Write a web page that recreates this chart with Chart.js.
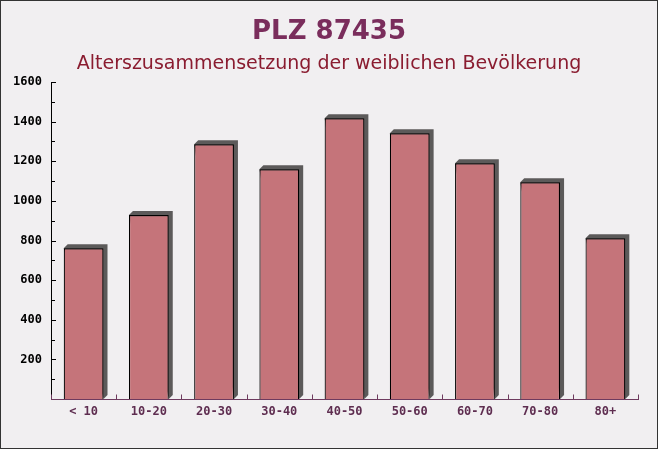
<!DOCTYPE html>
<html>
<head>
<meta charset="utf-8">
<script src="https://cdn.jsdelivr.net/npm/chart.js@4/dist/chart.umd.min.js"></script>
<style>
html,body{margin:0;padding:0;background:#f1eff1;}
#wrap{width:658px;height:449px;position:relative;}
</style>
</head>
<body>
<div id="wrap"><canvas id="c" width="658" height="449"></canvas></div>
<script>
const categories = ["< 10","10-20","20-30","30-40","40-50","50-60","60-70","70-80","80+"];
const values = [761, 929, 1286, 1159, 1417, 1341, 1190, 1094, 811];
const yTickValues = [200, 400, 600, 800, 1000, 1200, 1400, 1600];
const titleText = "PLZ 87435";
const subtitleText = "Alterszusammensetzung der weiblichen Bevölkerung";

const bgPlugin = {
  id: 'bg',
  beforeDraw(chart) {
    const ctx = chart.ctx;
    ctx.save();
    ctx.fillStyle = '#f1eff1';
    ctx.fillRect(0, 0, chart.width, chart.height);
    ctx.restore();
  },
  afterDraw(chart) {
    const ctx = chart.ctx;
    ctx.save();
    ctx.strokeStyle = '#333333';
    ctx.lineWidth = 1;
    ctx.strokeRect(0.5, 0.5, chart.width - 1, chart.height - 1);
    ctx.restore();
  }
};

const shadowPlugin = {
  id: 'shadow3d',
  beforeDatasetsDraw(chart) {
    const ctx = chart.ctx;
    const meta = chart.getDatasetMeta(0);
    ctx.save();
    ctx.fillStyle = '#5c5a5a';
    meta.data.forEach(bar => {
      const p = bar.getProps(['x','y','base','width'], true);
      const l = p.x - p.width / 2, r = p.x + p.width / 2;
      const t = p.y, b = p.base;
      const d = 4;
      ctx.beginPath();
      ctx.moveTo(l, t);
      ctx.lineTo(l + d, t - d);
      ctx.lineTo(r + d, t - d);
      ctx.lineTo(r + d, b - d);
      ctx.lineTo(r, b);
      ctx.closePath();
      ctx.fill();
    });
    ctx.restore();
  }
};

const axesPlugin = {
  id: 'axesTicks',
  afterDatasetsDraw(chart) {
    const ctx = chart.ctx;
    const xs = chart.scales.x, ys = chart.scales.y;
    const ca = chart.chartArea;
    ctx.save();
    ctx.strokeStyle = '#000000';
    ctx.lineWidth = 1;
    ctx.beginPath();
    ctx.moveTo(Math.round(ca.left) + 0.5, ys.getPixelForValue(1600));
    ctx.lineTo(Math.round(ca.left) + 0.5, ys.getPixelForValue(0));
    ctx.stroke();
    for (let v = 100; v <= 1600; v += 100) {
      const y = Math.round(ys.getPixelForValue(v)) + 0.5;
      const len = (v % 200 === 0) ? 5 : 4;
      ctx.beginPath();
      ctx.moveTo(Math.round(ca.left), y);
      ctx.lineTo(Math.round(ca.left) + len, y);
      ctx.stroke();
    }
    ctx.strokeStyle = '#6e3a5e';
    const y0 = Math.round(ys.getPixelForValue(0)) + 0.5;
    ctx.beginPath();
    ctx.moveTo(Math.round(ca.left), y0);
    ctx.lineTo(Math.round(ca.right) + 1, y0);
    ctx.stroke();
    for (let i = 0; i <= categories.length; i++) {
      const x = Math.round(xs.getPixelForValue(i - 0.5)) + 0.5;
      ctx.beginPath();
      ctx.moveTo(x, y0);
      ctx.lineTo(x, y0 - 5);
      ctx.stroke();
    }
    ctx.restore();
  }
};

new Chart(document.getElementById('c'), {
  type: 'bar',
  data: {
    labels: categories,
    datasets: [{
      data: values,
      backgroundColor: '#c5747a',
      borderColor: '#000000',
      borderWidth: 1.2,
      borderSkipped: 'bottom',
      categoryPercentage: 1.0,
      barPercentage: 0.61
    }]
  },
  options: {
    responsive: false,
    animation: false,
    devicePixelRatio: 1,
    layout: { padding: { left: 0, right: 0, top: 0, bottom: 0 } },
    plugins: {
      legend: { display: false },
      tooltip: { enabled: false },
      title: {
        display: true,
        text: titleText,
        color: '#7a2d5c',
        font: { family: 'DejaVu Sans', size: 26, weight: 'bold', lineHeight: 1.2 },
        padding: { top: 17, bottom: 4 }
      },
      subtitle: {
        display: true,
        text: subtitleText,
        color: '#8a1c30',
        font: { family: 'DejaVu Sans', size: 19, weight: 'normal', lineHeight: 1.2 },
        padding: { top: 0, bottom: 7 }
      }
    },
    scales: {
      x: {
        type: 'category',
        offset: true,
        grid: { display: false, drawTicks: false },
        border: { display: false },
        ticks: {
          color: '#5e2d50',
          font: { family: 'DejaVu Sans Mono', size: 12, weight: 'bold' },
          padding: 6,
          maxRotation: 0
        },
        afterFit(scale) { scale.height = 50; }
      },
      y: {
        type: 'linear',
        position: 'left',
        min: 0,
        max: 1600,
        afterBuildTicks(scale) { scale.ticks = yTickValues.map(v => ({ value: v })); },
        grid: { display: false, drawTicks: false },
        border: { display: false },
        ticks: {
          color: '#000000',
          font: { family: 'DejaVu Sans Mono', size: 12, weight: 'bold' },
          padding: 9,
          callback: (v) => String(v)
        },
        afterFit(scale) { scale.width = 51; }
      },
      yRight: {
        type: 'linear',
        position: 'right',
        display: true,
        min: 0,
        max: 1600,
        grid: { display: false, drawTicks: false },
        border: { display: false },
        ticks: { display: false },
        afterFit(scale) { scale.width = 20; }
      }
    }
  },
  plugins: [bgPlugin, shadowPlugin, axesPlugin]
});
</script>
</body>
</html>
